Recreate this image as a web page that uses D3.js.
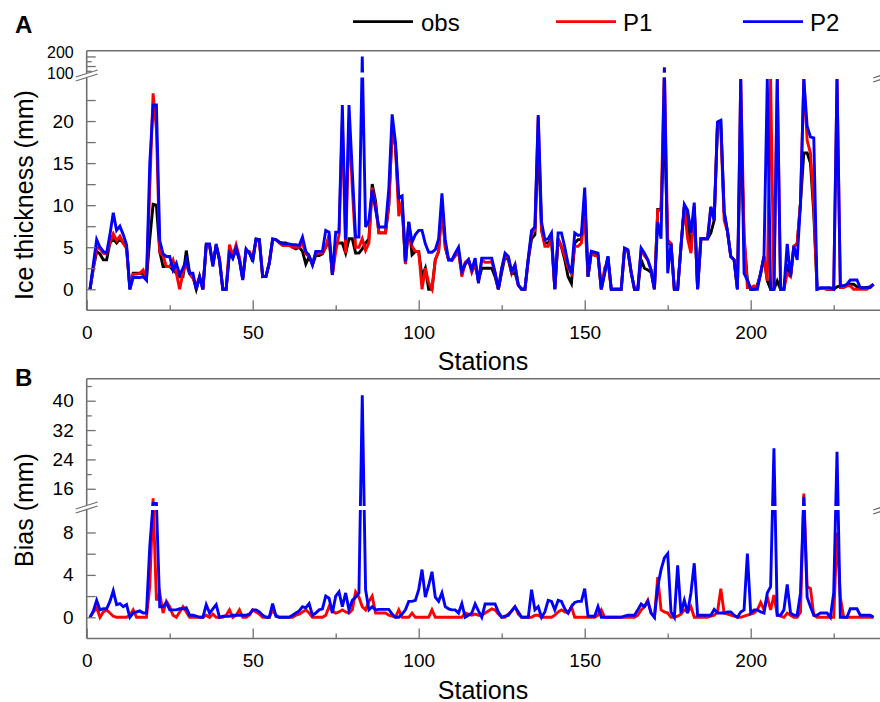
<!DOCTYPE html>
<html><head><meta charset="utf-8">
<script src="https://cdn.jsdelivr.net/npm/d3@7"></script>
<style>
body{margin:0;background:#fff}
svg{display:block}
text{font-family:Arial,"Liberation Sans",sans-serif;fill:#000}
</style>
</head><body>
<svg id="chart" width="880" height="702"></svg>
<script>
// ---------- DATA ----------
const stations = d3.range(1, 238);
const seriesNames = ["obs", "P1", "P2"];
const seriesColors = ["#000000", "#ff0000", "#0000ff"];

const obs = [
0,2.5,4.5,4.2,3.5,3.5,5.5,6.0,5.5,6.0,
5.5,5.0,0,1.9,1.9,1.9,1.9,1.2,6.0,10.1,
10.0,4.5,2.7,2.7,2.7,2.3,1.9,1.5,1.5,4.6,
1.9,1.5,0,1.5,0,5.2,5.2,3.0,5.2,3.4,
0,0,4.5,3.7,4.8,3.5,1.2,4.6,4.4,3.3,
5.9,5.9,1.5,1.5,3.1,5.9,5.9,5.6,5.5,5.5,
5.3,5.0,4.8,5.0,4.5,3.0,3.9,2.9,4.0,4.0,
4.2,5.0,6.0,1.7,5.5,5.5,5.5,4.3,6.0,6.0,
4.3,4.3,4.8,5.5,6.0,12.5,10.5,6.7,6.7,6.7,
10.0,19.0,17.0,10.0,10.0,3.0,8.0,4.1,4.5,4.5,
1.5,2.5,0,0,3.5,4.5,10.0,5.0,3.5,3.5,
4.0,4.5,1.9,3.0,3.5,2.3,3.2,1.0,2.5,2.5,
2.5,2.5,1.5,0,2.0,3.9,3.5,1.9,2.0,0.5,
0,0,3.5,6.0,6.5,18.0,7.0,5.5,5.5,6.0,
0,6.0,5.0,3.5,1.5,0.7,5.5,5.9,5.9,11.0,
1.5,4.4,4.2,4.0,0,1.9,3.9,0,0,0,
0,4.8,4.6,2.0,0,0,3.5,2.5,2.3,2.0,
0,9.5,9.5,20.0,5.5,5.4,0,0,5.1,9.8,
8.0,4.6,9.8,0,6.0,6.0,6.0,6.7,8.2,19.5,
19.8,9.2,6.9,3.9,3.5,0,20.0,6.0,1.1,0,
0,0.5,1.9,3.9,1.0,0,0,1.0,0,0,
3.0,1.5,5.1,5.4,10.3,16.2,16.2,15.0,9.0,0,
0.1,0.1,0,0,0,0.3,0.4,0.4,0.5,0.6,
0.6,0.3,0.2,0.2,0.2,0.3,0.6];

const p1 = [
0,2.5,5.0,4.8,4.3,4.2,5.5,6.6,5.8,6.3,
5.5,4.8,0.3,1.8,1.8,1.9,2.3,1.0,12.0,23.3,
19.0,4.4,4.0,2.7,2.7,3.5,1.9,0,2.0,3.0,
1.8,1.3,0.5,1.4,0,5.2,5.2,2.9,5.2,3.7,
0,0,5.3,4.0,5.3,3.8,1.3,4.5,4.5,3.7,
5.8,5.7,1.5,1.6,3.2,5.9,5.9,5.5,5.2,5.2,
5.2,5.0,5.0,5.0,5.5,4.2,3.9,3.0,4.3,4.3,
4.3,5.0,6.5,1.7,4.5,6.5,20.0,4.3,20.0,12.0,
5.0,5.0,6.0,4.6,5.5,12.1,10.0,6.7,6.7,6.7,
10.0,19.0,17.0,8.7,10.5,3.0,7.5,5.1,4.5,4.5,
0,2.5,0.8,0,3.5,4.5,9.8,5.0,3.5,3.4,
4.0,4.5,1.5,3.2,3.5,2.0,3.0,1.0,3.5,3.2,
3.2,3.3,2.0,0,2.5,4.0,3.7,1.9,2.9,0.5,
0,0,3.5,6.7,7.0,20.5,7.0,5.1,5.1,6.0,
0,6.0,5.1,3.9,2.5,1.9,5.1,5.1,5.5,8.7,
1.5,4.4,4.0,4.0,0,2.5,3.3,0,0,0,
0,4.8,4.5,2.0,0,0,4.7,4.0,3.5,2.3,
0,9.4,9.4,84,5.9,5.4,0,0,5.1,9.8,
6.0,4.3,9.8,0,6.0,6.0,6.0,9.8,8.2,19.9,
19.0,8.2,6.9,3.9,3.5,0,25,6.7,0.2,0.2,
0.4,0.2,1.9,3.9,1.0,25,0,25,0,0,
1.9,1.5,5.1,5.4,10.3,25,17.7,16.2,9.8,0,
0.1,0.1,0,0,0,25,0.2,0.2,0.4,0.4,
0,0,0,0,0,0.3,0.6];

const p2 = [
0,3.0,5.9,5.0,4.5,4.3,6.5,9.1,7.0,7.5,
6.5,5.3,0,1.4,1.4,1.4,1.5,1.1,15.0,21.9,
21.9,5.8,4.2,3.9,3.9,2.3,3.1,1.7,2.5,3.5,
1.9,1.9,0,1.5,0,5.4,5.4,2.7,5.4,3.5,
0,0,4.3,3.7,4.9,3.5,1.1,4.8,4.3,3.5,
6.0,5.9,1.5,1.5,3.1,6.0,5.9,5.6,5.4,5.4,
5.4,5.3,5.3,5.2,6.2,4.5,4.0,2.9,4.5,4.5,
4.5,7.0,6.8,1.7,6.8,6.8,21.9,5.9,21.9,14.0,
6.2,6.2,200,7.4,8.2,11.8,9.5,7.4,7.4,7.4,
12.0,20.8,17.5,10.9,11.1,3.3,8.0,5.6,6.5,7.0,
7.0,5.4,4.4,4.4,4.7,6.0,11.4,5.9,3.5,3.5,
4.3,5.0,2.1,3.0,3.5,2.3,3.7,0.7,3.7,3.7,
3.7,3.7,2.0,0,2.5,4.3,3.9,2.1,2.9,0.5,
0,0,3.7,7.0,7.4,20.7,8.0,5.9,6.0,6.7,
0,6.7,6.7,5.0,3.0,1.9,6.7,6.4,6.5,12.1,
1.5,4.5,4.4,4.3,0,1.9,3.9,0,0,0,
0,4.9,4.7,2.0,0,0,4.9,4.3,3.5,2.3,
0,8.0,6.0,84,1.9,5.4,0,0,5.1,10.1,
9.4,6.7,10.3,0,6.0,6.0,6.0,9.8,8.2,19.9,
20.1,9.2,6.9,3.9,3.5,0,25,1.9,1.1,0,
0,0,1.9,3.9,25,0,0,25,0,0,
5.4,1.5,5.1,3.5,10.3,25,19.4,18.1,18.0,0,
0.2,0.2,0.2,0.2,0,25,0.4,0.4,0.6,1.1,
1.1,1.1,0.2,0.2,0.2,0.2,0.6];

const bias1 = [
0,0.5,0.9,0,0.5,0.7,0.4,0.1,0,0,
0,0,0.2,0.7,0,0,0,0,2.9,13.4,
1.6,2.3,0.4,1.5,1.0,0.2,0,0.5,1.0,0.5,
0,0,0,0,0,0.2,0,0.3,0,0,
0,0.2,0.7,0,0.2,0.7,0,0,0.2,0.7,
0.5,0.3,0,0,0,0.7,0.2,0,0,0,
0,0,0.2,0.3,0.5,0.7,0.4,0,0,0,
0,0.2,1.0,0.6,0.4,0.5,0.7,0.5,0.4,0.7,
2.4,1.9,1.0,0.7,1.5,2.0,0.4,0.4,0.4,0.4,
0.2,0.1,0,0.7,0,0,0,0.4,0,0,
0,0,0,0.7,0,0,0,0,0,0,
0,0,0,0.4,0.3,0.2,0.3,0.2,0.2,0.4,
0.6,0.8,0.7,0.3,0,0,0.3,0.6,1.0,0.3,
0,0,0,0,0.2,0.2,0,0,0,0,
0.2,0.5,0.7,0.5,0.4,1.0,0,0,0,0,
0,0,0,0.2,0.7,0,0,0,0,0,
0,0,0,0,0,0.2,0.7,1.0,1.6,0.4,
0,3.8,0.7,0.5,0.4,0,0,0.1,0.3,0.7,
0.5,1.0,0,0,0,0,0,0.1,0.2,0.5,
2.7,0.4,0.3,0.2,0.1,0,0,0.1,0.2,0.3,
0.4,0.7,1.4,0.7,1.9,0.7,2.1,0.2,0.1,0,
0.4,0.2,0,0,0.5,14.7,2.9,2.7,0.2,0,
0,0,0,0,0,8.0,1.9,0,0,0,
0,0,0,0,0,0,0];

const bias2 = [
0,0.6,1.6,0.7,0.8,0.8,1.5,2.5,1.2,1.3,
1.0,1.2,0,0.4,0.5,0.6,0.4,0.4,6.7,12.0,
12.0,1.0,1.0,1.4,0.7,0.7,0.7,0.8,0.8,0.9,
0.2,0.2,0.1,0,0,1.2,0.4,0.8,1.2,0,
0.1,0.1,0.1,0.2,0.2,0.2,0.2,0.2,0.3,0.7,
0.7,0.5,0.2,0,0,1.3,0.1,0,0,0,
0,0.2,0.4,0.6,1.0,0.9,1.3,0.2,0.4,0.7,
0.8,2.0,1.8,0.4,2.0,2.4,1.0,2.3,0.7,1.6,
1.9,2.3,41.5,2.6,0.7,1.0,0.7,0.75,0.75,0.75,
0.75,0.3,0,0,0.3,0.7,1.5,1.5,1.6,2.6,
4.5,1.9,3.0,4.3,1.9,1.5,2.3,1.0,0.8,0.7,
0.7,0.4,1.3,0,0.2,0.4,1.25,0.6,0,1.25,
1.25,1.25,1.25,0.5,0,0.1,0.2,0.6,1.0,0.5,
0,0,0,2.6,0.7,1.0,0,0.5,1.6,1.5,
0.7,1.6,1.5,0.8,0.4,1.0,1.4,1.5,1.5,2.7,
0.1,0.1,0.1,1.0,0,0,0,0,0,0,
0,0.1,0.2,0.2,0.2,0.7,1.25,1.0,1.5,0.4,
0,2.9,4.5,5.6,6.0,0.5,0,4.9,0.4,1.6,
0.4,2.3,5.1,0.2,0.2,0.2,0.2,0.2,0.75,0.4,
0.4,0.4,0.5,0.5,0.2,0,0.5,0.7,6.0,0.4,
0.7,0.7,0.5,0.4,2.3,2.9,27.0,0.2,0.2,0.7,
3.1,0.4,0.2,0.2,2.3,13.8,1.9,1.0,0.2,0.2,
0.4,0.4,0.4,0,2.3,26.1,0,0,0,0.8,
0.8,0.8,0.2,0.2,0.2,0.2,0];

const xTicksMajor = [0, 50, 100, 150, 200];
const xTicksMinor = [25, 75, 125, 175, 225];
const yTopTicks = [0, 2.5, 5, 7.5, 10, 12.5, 15, 17.5, 20, 22.5, 100, 200];
const yTopMinor = [50, 150];
const yTopLabels = [0, 5, 10, 15, 20, 100, 200];
const yBotTicks = [0, 2, 4, 6, 8, 16, 24, 32, 40];
const yBotMinor = [20, 28, 36, 44];
const yBotLabels = [0, 4, 8, 16, 24, 32, 40];

// ---------- LAYOUT ----------
const svg = d3.select("#chart");
const L = 86.7, R = 880;
const axisColor = "#707070";
const x = d3.scaleLinear().domain([0, 240]).range([L, L + 240 * 3.32]);

const panels = [
  { id: "A", top: 50.7, bottom: 310.3,
    y: d3.scaleLinear().domain([-2.5, 25, 27, 260]).range([310.3, 79, 73, 50.7]),
    gap: [72.5, 77.5], brk: 76.5,
    ticks: yTopTicks, minor: yTopMinor, labels: yTopLabels,
    series: [obs, p1, p2], colors: seriesColors,
    title: "Ice thickness (mm)", titleY: 195, letterY: 33 },
  { id: "B", top: 378.7, bottom: 638.5,
    y: d3.scaleLinear().domain([-2, 10, 11.3, 46]).range([638.5, 511.3, 506, 378.7]),
    gap: [506, 510], brk: 508.5,
    ticks: yBotTicks, minor: yBotMinor, labels: yBotLabels,
    series: [bias1, bias2], colors: [seriesColors[1], seriesColors[2]],
    title: "Bias (mm)", titleY: 510, letterY: 386 }
];

const defs = svg.append("defs");

panels.forEach((p, pi) => {
  const g = svg.append("g");
  const cp = defs.append("clipPath").attr("id", "clip" + pi);
  cp.append("rect").attr("x", L).attr("y", p.top).attr("width", R - L).attr("height", p.gap[0] - p.top);
  cp.append("rect").attr("x", L).attr("y", p.gap[1]).attr("width", R - L).attr("height", p.bottom - p.gap[1] + 20);

  const line = d3.line().x((d, i) => x(stations[i])).y(d => p.y(d));
  const lg = g.append("g").attr("clip-path", `url(#clip${pi})`);
  p.series.forEach((s, si) => {
    lg.append("path").attr("d", line(s)).attr("fill", "none")
      .attr("stroke", p.colors[si]).attr("stroke-width", 2.9)
      .attr("stroke-linejoin", "miter");
  });

  const yAx = g.append("g").attr("transform", `translate(${L},0)`)
    .call(d3.axisLeft(p.y).tickValues(p.ticks).tickSize(-9).tickPadding(13)
      .tickFormat(d => p.labels.includes(d) ? d : ""));
  const yAxMin = g.append("g").attr("transform", `translate(${L},0)`)
    .call(d3.axisLeft(p.y).tickValues(p.minor).tickSize(-5).tickFormat(""));
  [yAx, yAxMin].forEach(a => {
    a.select(".domain").remove();
    a.selectAll("line").attr("stroke", axisColor).attr("stroke-width", 1.3);
    a.selectAll("text").attr("font-size", 19).attr("fill", "#000");
  });
  // the two crowded labels above the break: slightly smaller and pushed apart
  if (pi === 0) {
    yAx.selectAll(".tick").filter(d => d === 200).select("text")
      .attr("font-size", 16).attr("dy", "0.05em");
    yAx.selectAll(".tick").filter(d => d === 100).select("text")
      .attr("font-size", 16).attr("dy", "0.75em");
  }

  const xAx = g.append("g").attr("transform", `translate(0,${p.bottom})`)
    .call(d3.axisBottom(x).tickValues(xTicksMajor).tickSize(-10).tickPadding(15));
  const xAxMin = g.append("g").attr("transform", `translate(0,${p.bottom})`)
    .call(d3.axisBottom(x).tickValues(xTicksMinor).tickSize(-5).tickFormat(""));
  [xAx, xAxMin].forEach(a => {
    a.select(".domain").remove();
    a.selectAll("line").attr("stroke", axisColor).attr("stroke-width", 1.3);
    a.selectAll("text").attr("font-size", 19).attr("fill", "#000");
  });

  g.append("line").attr("x1", L).attr("x2", R).attr("y1", p.top).attr("y2", p.top)
    .attr("stroke", axisColor).attr("stroke-width", 1.6);
  g.append("line").attr("x1", L).attr("x2", R).attr("y1", p.bottom).attr("y2", p.bottom)
    .attr("stroke", axisColor).attr("stroke-width", 1.6);
  g.append("line").attr("x1", L).attr("x2", L).attr("y1", p.top).attr("y2", p.bottom)
    .attr("stroke", axisColor).attr("stroke-width", 1.6);

  function breakMark(cx, cy) {
    const w = 11;
    g.append("path")
      .attr("d", `M${cx - w},${cy + 2.5}L${cx + w},${cy - 4.5}L${cx + w},${cy - 0.5}L${cx - w},${cy + 6.5}Z`)
      .attr("fill", "#fff");
    g.append("line").attr("x1", cx - w).attr("y1", cy + 2.5).attr("x2", cx + w).attr("y2", cy - 4.5)
      .attr("stroke", axisColor).attr("stroke-width", 1.3);
    g.append("line").attr("x1", cx - w).attr("y1", cy + 6.5).attr("x2", cx + w).attr("y2", cy - 0.5)
      .attr("stroke", axisColor).attr("stroke-width", 1.3);
  }
  breakMark(L, p.brk - 2);
  breakMark(884, p.brk - 1);

  g.append("text").attr("transform", `translate(33,${p.titleY}) rotate(-90)`)
    .attr("text-anchor", "middle").attr("font-size", 25).text(p.title);
  g.append("text").attr("x", 483).attr("y", p.bottom + 60).attr("text-anchor", "middle")
    .attr("font-size", 25).text("Stations");
  g.append("text").attr("x", 15).attr("y", p.letterY).attr("font-size", 24)
    .attr("font-weight", "bold").text(p.id);
});

const legX = [353, 556, 743];
const legTextX = [421, 623, 810];
seriesNames.forEach((n, i) => {
  svg.append("line").attr("x1", legX[i]).attr("x2", legX[i] + 60)
    .attr("y1", 21.7).attr("y2", 21.7).attr("stroke", seriesColors[i]).attr("stroke-width", 2.8);
  svg.append("text").attr("x", legTextX[i]).attr("y", 30.5).attr("font-size", 24).text(n);
});
</script>
</body></html>
